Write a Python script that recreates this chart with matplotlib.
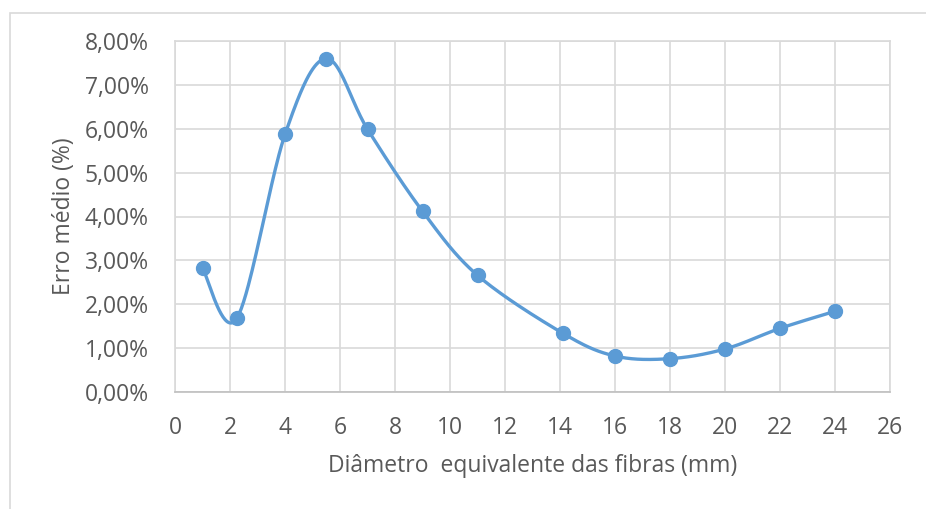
import numpy as np
import matplotlib
matplotlib.use("Agg")
import matplotlib.pyplot as plt
from matplotlib.patches import Rectangle
from matplotlib.ticker import FuncFormatter

plt.rcParams['font.family'] = ['Open Sans', 'DejaVu Sans']

# Measured data
diametro = [1.0, 2.25, 4.0, 5.5, 7.0, 9.0, 11.0, 14.1, 16.0, 18.0, 20.0, 22.0, 24.0]
erro = [2.82, 1.68, 5.87, 7.60, 5.99, 4.12, 2.66, 1.34, 0.82, 0.76, 0.98, 1.45, 1.84]
x_ticks = list(range(0, 27, 2))
y_ticks = [0, 1, 2, 3, 4, 5, 6, 7, 8]

TEXT = '#595959'
GRID = '#d9d9d9'
BLUE = '#5b9bd5'
FS = 16.5


def smooth_curve(xs, ys, n=40):
    """Piecewise cubic Bezier through the points (Catmull-Rom style tangents)."""
    pts = np.column_stack([xs, ys]).astype(float)
    ext = np.vstack([pts[0], pts, pts[-1]])
    out = []
    t = np.linspace(0, 1, n)[:, None]
    for i in range(len(pts) - 1):
        p0 = ext[i + 1]
        p3 = ext[i + 2]
        c1 = p0 + (ext[i + 2] - ext[i]) / 6.0
        c2 = p3 - (ext[i + 3] - ext[i + 1]) / 6.0
        seg = ((1 - t) ** 3) * p0 + 3 * ((1 - t) ** 2) * t * c1 \
            + 3 * (1 - t) * t ** 2 * c2 + t ** 3 * p3
        out.append(seg if i == 0 else seg[1:])
    arr = np.vstack(out)
    return arr[:, 0], arr[:, 1]


fig = plt.figure(figsize=(9.26, 5.09), dpi=100)
fig.patch.set_facecolor('white')

# chart-area outline
fig.patches.append(Rectangle((9.5 / 926, -0.1), 1.2, 1.1 - 12.5 / 509,
                             transform=fig.transFigure, fill=False,
                             edgecolor=GRID, linewidth=1.2, zorder=0))

ax = fig.add_axes([175 / 926, 1 - 392 / 509, (890 - 175) / 926, (392 - 41) / 509])
ax.set_xlim(0, 26)
ax.set_ylim(0, 8)
ax.set_xticks(x_ticks)
ax.set_yticks(y_ticks)
ax.yaxis.set_major_formatter(FuncFormatter(lambda v, p: f"{v:.2f}%".replace('.', ',')))
ax.grid(True, color=GRID, linewidth=1.2)
ax.set_axisbelow(True)
for s in ax.spines.values():
    s.set_color(GRID)
    s.set_linewidth(1.2)
ax.spines['bottom'].set_color('#bfbfbf')
ax.tick_params(length=0, labelsize=FS, colors=TEXT)
ax.tick_params(axis='x', pad=17)
ax.tick_params(axis='y', pad=19)

sx, sy = smooth_curve(diametro, erro)
ax.plot(sx, sy, color=BLUE, linewidth=2.4, solid_capstyle='round', zorder=3)
ax.plot(diametro, erro, 'o', color=BLUE, markersize=10, zorder=4)

ax.set_xlabel('Diâmetro  equivalente das fibras (mm)', fontsize=FS, color=TEXT, labelpad=10)
ax.set_ylabel('Erro médio (%)', fontsize=FS, color=TEXT, labelpad=6)

fig.savefig('out.png', dpi=100)
